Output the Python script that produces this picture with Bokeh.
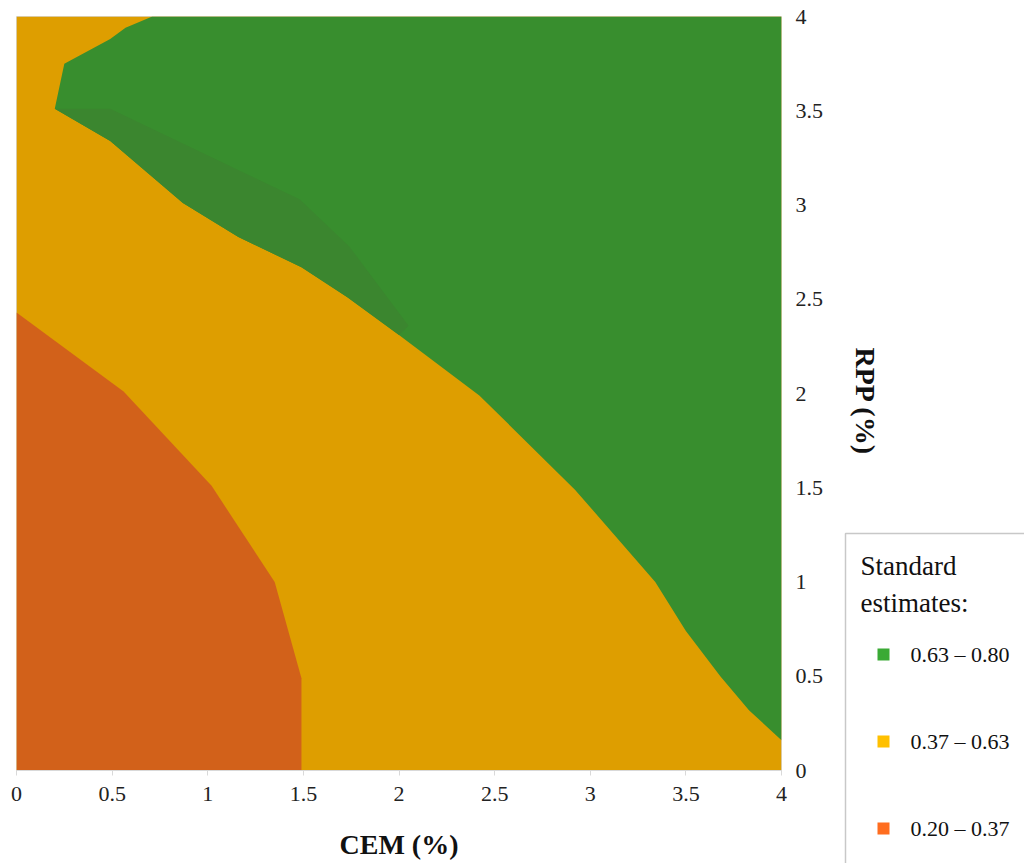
import math
from bokeh.plotting import figure
from bokeh.layouts import row, column
from bokeh.models import Range1d, FixedTicker, ColumnDataSource
from bokeh.core.properties import value
from bokeh.embed import file_html
from bokeh.resources import INLINE

# ---------------- data ----------------
tick_vals = [0, 0.5, 1, 1.5, 2, 2.5, 3, 3.5, 4]
tick_labels = ["0", "0.5", "1", "1.5", "2", "2.5", "3", "3.5", "4"]

# contour boundary between 0.37-0.63 and 0.63-0.80 (CEM, RPP)
green_cem = [0.71, 0.57, 0.49, 0.25, 0.20, 0.49, 0.87, 1.16, 1.49, 1.73, 2.00, 2.42, 2.92, 3.34, 3.50, 3.68, 3.83, 4.00]
green_rpp = [4.00, 3.94, 3.88, 3.75, 3.51, 3.34, 3.01, 2.83, 2.67, 2.51, 2.31, 1.99, 1.49, 1.00, 0.74, 0.50, 0.32, 0.16]

# inner shading edge of the green band near its lower boundary (CEM, RPP)
shade_cem = [2.05, 1.74, 1.48, 0.49]
shade_rpp = [2.36, 2.78, 3.03, 3.51]

# contour boundary between 0.20-0.37 and 0.37-0.63 (CEM, RPP)
red_cem = [0.00, 0.56, 1.02, 1.35, 1.49, 1.49]
red_rpp = [2.43, 2.01, 1.51, 1.00, 0.49, 0.00]

legend_labels = ["0.63 \u2013 0.80", "0.37 \u2013 0.63", "0.20 \u2013 0.37"]
legend_colors = ["#3AAA35", "#FFC000", "#FF6D1F"]
region_colors = ["#388E2E", "#DE9E00", "#D2611A"]
shade_color = "#3B862F"

SERIF = "Liberation Serif"

# ---------------- main plot ----------------
p = figure(width=840, height=863, x_range=Range1d(0, 4), y_range=Range1d(0, 4),
           y_axis_location="right", toolbar_location=None, output_backend="svg",
           min_border_left=16, min_border_top=16, min_border_right=59, min_border_bottom=93)
p.background_fill_color = "white"
p.border_fill_color = "white"
p.outline_line_color = "#d9d9d9"
p.grid.visible = False

# base (middle band)
p.quad(left=[tick_vals[0]], right=[tick_vals[-1]], bottom=[tick_vals[0]], top=[tick_vals[-1]],
       fill_color=region_colors[1], line_color=None)

# high band (green): boundary + top-right corner
gx = green_cem + [tick_vals[-1]]
gy = green_rpp + [tick_vals[-1]]
p.patch(gx, gy, fill_color=region_colors[0], line_color=None)

# subtle darker strip inside the green band
sx = green_cem[4:11] + shade_cem
sy = green_rpp[4:11] + shade_rpp
p.patch(sx, sy, fill_color=shade_color, line_color=None)

# low band (red): origin + boundary
rx = [tick_vals[0]] + red_cem
ry = [tick_vals[0]] + red_rpp
p.patch(rx, ry, fill_color=region_colors[2], line_color=None)

overrides = {v: l for v, l in zip(tick_vals, tick_labels)}
for ax in (p.xaxis[0], p.yaxis[0]):
    ax.ticker = FixedTicker(ticks=tick_vals)
    ax.major_label_overrides = overrides
    ax.major_label_text_font = SERIF
    ax.major_label_text_font_size = "22px"
    ax.major_label_text_color = "#222222"
    ax.minor_tick_line_color = None

p.xaxis.axis_line_color = "#d9d9d9"
p.xaxis.major_tick_line_color = "#d9d9d9"
p.xaxis.major_tick_out = 5
p.xaxis.major_tick_in = 0
p.xaxis.major_label_standoff = 11
p.xaxis.axis_label = "CEM (%)"
p.xaxis.axis_label_text_font = SERIF
p.xaxis.axis_label_text_font_style = "bold"
p.xaxis.axis_label_text_font_size = "28px"
p.xaxis.axis_label_text_color = "#111111"
p.xaxis.axis_label_standoff = 25

p.yaxis.axis_line_color = None
p.yaxis.major_tick_line_color = None
p.yaxis.major_tick_out = 0
p.yaxis.major_tick_in = 0
p.yaxis.major_label_standoff = 14

# ---------------- right column: axis title ----------------
W_R = 184
t = figure(width=W_R, height=520, x_range=Range1d(0, W_R), y_range=Range1d(520, 0),
           toolbar_location=None, output_backend="svg", min_border=0)
t.axis.visible = False
t.grid.visible = False
t.outline_line_color = None
t.text(x=[25], y=[401], text=["RPP (%)"], angle=-math.pi / 2,
       text_font=value(SERIF), text_font_style="bold", text_font_size="28px",
       text_align="center", text_baseline="middle", text_color="#111111")

# ---------------- right column: legend ----------------
lg = figure(width=W_R, height=343, x_range=Range1d(0, W_R), y_range=Range1d(343, 0),
            toolbar_location=None, output_backend="svg", min_border=0)
lg.axis.visible = False
lg.grid.visible = False
lg.outline_line_color = None
lg.quad(left=[5], right=[W_R + 10], top=[13], bottom=[360],
        fill_color="white", line_color="#c8c8c8", line_width=1.5)
lg.text(x=[20, 20], y=[45, 82], text=["Standard", "estimates:"],
        text_font=value(SERIF), text_font_size="27px", text_baseline="alphabetic",
        text_align="left", text_color="#111111")
item_y = [134, 221, 308]
src = ColumnDataSource(dict(x=[43] * 3, xt=[70] * 3, y=item_y, c=legend_colors, lab=legend_labels))
lg.scatter(x="x", y="y", marker="square", size=12, fill_color="c", line_color=None, source=src)
lg.text(x="xt", y="y", text="lab", source=src, text_font=value(SERIF), text_font_size="22px",
        text_baseline="middle", text_align="left", text_color="#111111")

layout = row(p, column(t, lg, spacing=0), spacing=0)
open("out.html", "w").write(file_html(layout, INLINE))
